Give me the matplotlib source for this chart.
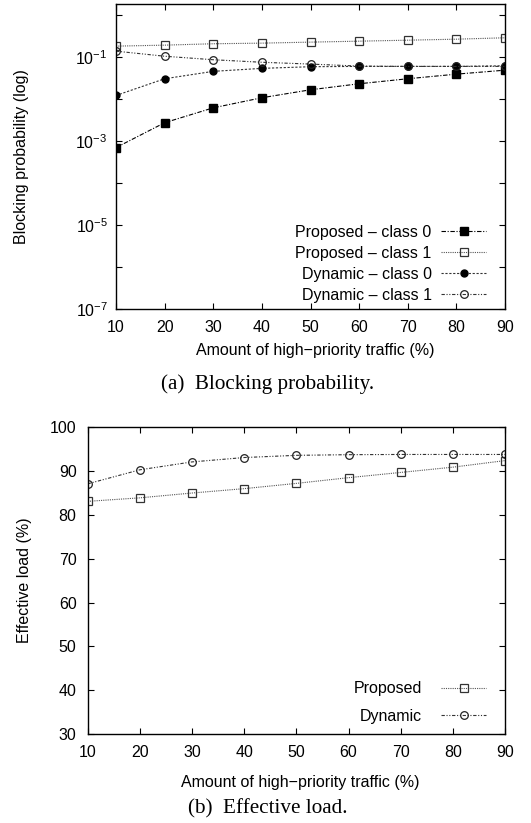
import matplotlib
matplotlib.use("Agg")
import matplotlib.pyplot as plt
from matplotlib.ticker import FixedLocator, NullFormatter, NullLocator

plt.rcParams['font.family'] = ['Liberation Sans', 'DejaVu Sans']
plt.rcParams['mathtext.fontset'] = 'custom'
plt.rcParams['mathtext.rm'] = 'Liberation Sans'
plt.rcParams['mathtext.it'] = 'Liberation Sans'

traffic = [10, 20, 30, 40, 50, 60, 70, 80, 90]

# Blocking probability
prop_c0 = [0.00069, 0.0027, 0.0061, 0.0106, 0.0164, 0.0228, 0.030, 0.0386, 0.048]
prop_c1 = [0.179, 0.189, 0.204, 0.211, 0.223, 0.235, 0.248, 0.262, 0.283]
dyn_c0 = [0.012, 0.030, 0.045, 0.053, 0.058, 0.059, 0.059, 0.059, 0.061]
dyn_c1 = [0.136, 0.103, 0.085, 0.074, 0.067, 0.060, 0.059, 0.059, 0.059]

# Effective load
load_prop = [83.1, 83.9, 85.0, 86.0, 87.2, 88.5, 89.7, 90.9, 92.4]
load_dyn = [87.1, 90.3, 92.1, 93.1, 93.6, 93.75, 93.8, 93.8, 93.8]

W, H = 531, 823
fig = plt.figure(figsize=(W / 100, H / 100), dpi=100)


def ax_rect(l, t, r, b):
    return [l / W, 1 - b / H, (r - l) / W, (b - t) / H]


FS = 11.5
lw = 0.8
LS_P0 = (0, (4, 1.5, 1, 1.5))
LS_P1 = (0, (1, 1))
LS_D0 = (0, (2, 1.5))
LS_D1 = (0, (3, 1.5, 1, 1.5, 1, 1.5))


def style_axes(ax):
    ax.tick_params(which='both', direction='in', top=True, right=True,
                   labelsize=FS, width=0.8)
    ax.tick_params(which='major', length=4)
    ax.tick_params(axis='x', pad=8)
    ax.tick_params(axis='y', pad=6)
    for s in ax.spines.values():
        s.set_linewidth(1.0)


# ---- (a) Blocking probability ----
L1, T1, R1, B1 = 116, 4, 505, 309
ax1 = fig.add_axes(ax_rect(L1, T1, R1, B1))
ax1.set_yscale('log')
ax1.plot(traffic, prop_c0, color='black', lw=lw, ls=LS_P0,
         marker='s', ms=5.5, mfc='black', mec='black', label='Proposed – class 0')
ax1.plot(traffic, prop_c1, color='#555555', lw=lw, ls=LS_P1,
         marker='s', ms=6, mfc='none', mec='#333333', mew=0.9,
         label='Proposed – class 1')
ax1.plot(traffic, dyn_c0, color='#333333', lw=lw, ls=LS_D0,
         marker='o', ms=5, mfc='black', mec='black', label='Dynamic – class 0')
ax1.plot(traffic, dyn_c1, color='#333333', lw=lw, ls=LS_D1,
         marker='o', ms=5.5, mfc='none', mec='#222222', mew=0.9,
         label='Dynamic – class 1')
ax1.set_xlim(10, 90)
ax1.set_ylim(1e-7, 1.8)
ax1.xaxis.set_major_locator(FixedLocator(traffic))
ax1.yaxis.set_major_locator(FixedLocator([1e-7, 1e-5, 1e-3, 1e-1]))
ax1.yaxis.set_minor_locator(FixedLocator([1e-6, 1e-4, 1e-2, 1e0]))
ax1.yaxis.set_minor_formatter(NullFormatter())
ax1.set_yticklabels([r'$10^{-7}$', r'$10^{-5}$', r'$10^{-3}$', r'$10^{-1}$'])
style_axes(ax1)
ax1.tick_params(which='minor', length=4, width=0.8)
ax1.set_xlabel('Amount of high−priority traffic (%)', fontsize=FS)
ax1.xaxis.set_label_coords((315.5 - L1) / (R1 - L1), -(351 - B1) / (B1 - T1))
ax1.xaxis.label.set_va('center')
ax1.set_ylabel('Blocking probability (log)', fontsize=FS)
ax1.yaxis.set_label_coords(-(L1 - 21) / (R1 - L1), 0.5)
ax1.yaxis.label.set_va('center')
ax1.legend(loc='lower right', markerfirst=False, frameon=False,
           fontsize=FS, handlelength=2.8, handletextpad=0.6,
           labelspacing=0.38, borderaxespad=0, borderpad=0,
           bbox_to_anchor=((486 - L1) / (R1 - L1), (B1 - 303) / (B1 - T1)))
fig.text(268 / W, 1 - 384 / H, '(a)  Blocking probability.',
         ha='center', va='center', fontsize=15.2, family='Liberation Serif')

# ---- (b) Effective load ----
L2, T2, R2, B2 = 87.7, 427.3, 505, 734
ax2 = fig.add_axes(ax_rect(L2, T2, R2, B2))
ax2.plot(traffic, load_prop, color='#555555', lw=lw, ls=LS_P1,
         marker='s', ms=6, mfc='none', mec='#333333', mew=0.9, label='Proposed')
ax2.plot(traffic, load_dyn, color='#333333', lw=lw, ls=LS_D1,
         marker='o', ms=5.5, mfc='none', mec='#222222', mew=0.9, label='Dynamic')
ax2.set_xlim(10, 90)
ax2.set_ylim(30, 100)
ax2.xaxis.set_major_locator(FixedLocator(traffic))
ax2.yaxis.set_major_locator(FixedLocator([30, 40, 50, 60, 70, 80, 90, 100]))
ax2.yaxis.set_minor_locator(NullLocator())
style_axes(ax2)
ax2.tick_params(axis='y', pad=8)
ax2.set_xlabel('Amount of high−priority traffic (%)', fontsize=FS)
ax2.xaxis.set_label_coords((300.5 - L2) / (R2 - L2), -(782 - B2) / (B2 - T2))
ax2.xaxis.label.set_va('center')
ax2.set_ylabel('Effective load (%)', fontsize=FS)
ax2.yaxis.set_label_coords(-(L2 - 24) / (R2 - L2), 0.5)
ax2.yaxis.label.set_va('center')
ax2.legend(loc='lower right', markerfirst=False, frameon=False,
           fontsize=FS, handlelength=2.8, handletextpad=1.2,
           labelspacing=0.8, borderaxespad=0, borderpad=0,
           bbox_to_anchor=((486 - L2) / (R2 - L2), (B2 - 724) / (B2 - T2)))
fig.text(268 / W, 1 - 809 / H, '(b)  Effective load.',
         ha='center', va='center', fontsize=15.2, family='Liberation Serif')

fig.savefig('out.png', dpi=100)
